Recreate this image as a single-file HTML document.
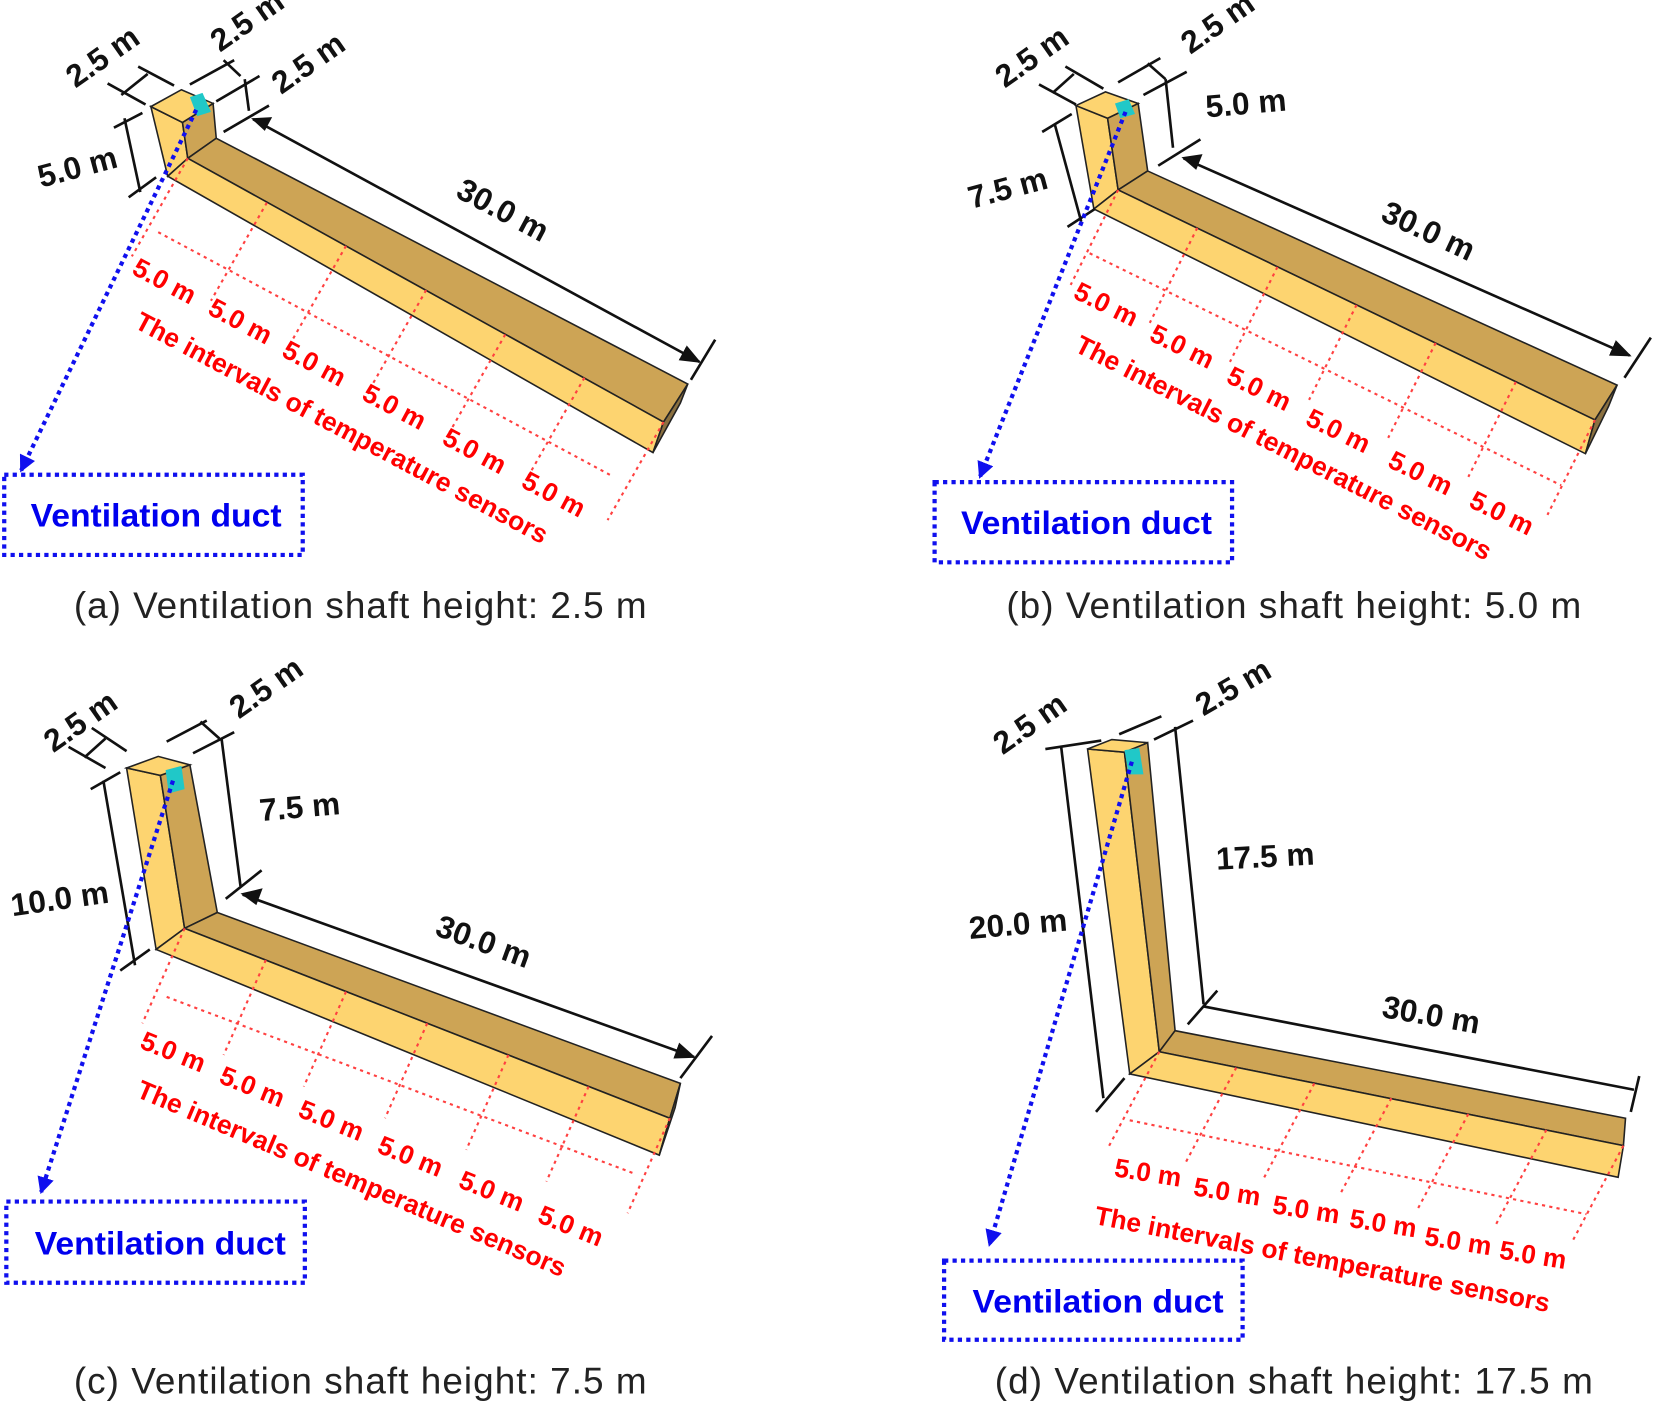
<!DOCTYPE html>
<html><head><meta charset="utf-8"><style>
html,body{margin:0;padding:0;background:#fff;}
svg{display:block;}
.dim{font-family:"Liberation Sans",sans-serif;font-weight:bold;font-size:30px;fill:#111;}
.red{font-family:"Liberation Sans",sans-serif;font-weight:bold;font-size:25px;fill:#f00;}
.blue{font-family:"Liberation Sans",sans-serif;font-weight:bold;font-size:31px;fill:#0000ee;}
.cap{font-family:"Liberation Sans",sans-serif;font-size:35px;fill:#222;}
.k{stroke:#111;stroke-width:2.5;fill:none;}
.rd{stroke:#ff4040;stroke-width:2;stroke-dasharray:3 4;fill:none;}
.bd{stroke:#1010ee;stroke-width:4;stroke-dasharray:4 4;fill:none;}
.lt{fill:#fdd470;stroke:#222;stroke-width:1.5;}
.dk{fill:#cda455;stroke:#222;stroke-width:1.5;}
.cy{fill:#20c8c8;}
</style></head><body>
<svg width="1654" height="1401" viewBox="0 0 1568 1328" xmlns="http://www.w3.org/2000/svg">
<defs>
<marker id="abl" markerWidth="16" markerHeight="16" refX="14" refY="8" orient="auto" markerUnits="userSpaceOnUse" viewBox="0 0 16 16"><path d="M0,0 L16,8 L0,16 z" fill="#1010ee"/></marker>
<marker id="ak" markerWidth="20" markerHeight="16" refX="18" refY="8" orient="auto" markerUnits="userSpaceOnUse" viewBox="0 0 20 16"><path d="M0,0 L20,8 L0,16 z" fill="#111"/></marker>
</defs>

<!-- ===== Panel A ===== -->
<polygon class="lt" points="143,101 173,116 178,150 159,167"/>
<polygon class="dk" points="173,116 202,98 205,131 178,150"/>
<polygon class="lt" points="143,101 172,85 202,98 173,116"/>
<polygon class="cy" points="180,92 192,88 200,106 187,110"/>
<polygon class="dk" points="178,150 205,131 652,364 629,400"/>
<polygon class="lt" points="159,167 178,150 629,400 619,429"/>
<polygon fill="#8a7040" stroke="#222" stroke-width="1.5" points="629,400 652,364 645,382 619,429"/>
<g class="rd">
<line x1="178" y1="150" x2="125" y2="243"/><line x1="253" y1="192" x2="200" y2="285"/>
<line x1="328" y1="233" x2="275" y2="326"/><line x1="404" y1="275" x2="351" y2="368"/>
<line x1="479" y1="317" x2="426" y2="410"/><line x1="554" y1="358" x2="501" y2="451"/>
<line x1="629" y1="400" x2="576" y2="493"/><line x1="150" y1="220" x2="580" y2="451"/>
</g>
<g class="k">
<line x1="131" y1="63" x2="165" y2="81"/><line x1="102" y1="79" x2="138" y2="99"/><line x1="115" y1="90" x2="140" y2="70"/>
<line x1="180" y1="80" x2="222" y2="57"/><line x1="205" y1="96" x2="246" y2="72"/><line x1="232" y1="75" x2="236" y2="105"/>
<line x1="212" y1="57" x2="228" y2="72"/>
<line x1="118" y1="112" x2="133" y2="182"/><line x1="108" y1="121" x2="135" y2="107"/><line x1="122" y1="187" x2="148" y2="168"/>
<line x1="212" y1="125" x2="255" y2="100"/><line x1="655" y1="360" x2="678" y2="322"/>
<line x1="240" y1="113" x2="663" y2="343" marker-end="url(#ak)"/>
</g>
<polygon points="238,112 258,111 251,124" fill="#111"/>
<text class="dim" transform="translate(103,62) rotate(-35)" text-anchor="middle">2.5 m</text>
<text class="dim" transform="translate(240,28) rotate(-35)" text-anchor="middle">2.5 m</text>
<text class="dim" transform="translate(298,68) rotate(-35)" text-anchor="middle">2.5 m</text>
<text class="dim" transform="translate(76,168) rotate(-15)" text-anchor="middle">5.0 m</text>
<text class="dim" transform="translate(472,208) rotate(28)" text-anchor="middle">30.0 m</text>
<g class="red">
<text transform="translate(152,274) rotate(28)" text-anchor="middle">5.0 m</text>
<text transform="translate(224,312) rotate(28)" text-anchor="middle">5.0 m</text>
<text transform="translate(294,352) rotate(28)" text-anchor="middle">5.0 m</text>
<text transform="translate(370,393) rotate(28)" text-anchor="middle">5.0 m</text>
<text transform="translate(446,435) rotate(28)" text-anchor="middle">5.0 m</text>
<text transform="translate(521,476) rotate(28)" text-anchor="middle">5.0 m</text>
<text transform="translate(320,413) rotate(28)" text-anchor="middle">The intervals of temperature sensors</text>
</g>
<line class="bd" x1="186" y1="104" x2="20" y2="446" marker-end="url(#abl)"/>
<rect class="bd" x="4" y="450" width="283" height="76"/>
<text class="blue" x="29" y="499" textLength="238" lengthAdjust="spacingAndGlyphs">Ventilation duct</text>
<text class="cap" x="70" y="586" textLength="543" lengthAdjust="spacing">(a) Ventilation shaft height: 2.5 m</text>

<!-- ===== Panel B ===== -->
<polygon class="lt" points="1020,100 1050,112 1060,180 1037,198"/>
<polygon class="dk" points="1050,112 1079,98 1088,162 1060,180"/>
<polygon class="lt" points="1020,100 1048,87 1079,98 1050,112"/>
<polygon class="cy" points="1057,98 1070,94 1076,108 1062,112"/>
<polygon class="dk" points="1060,180 1088,162 1533,365 1512,398"/>
<polygon class="lt" points="1037,198 1060,180 1512,398 1503,430"/>
<polygon fill="#8a7040" stroke="#222" stroke-width="1.5" points="1512,398 1533,365 1525,385 1503,430"/>
<g class="rd">
<line x1="1060" y1="180" x2="1015" y2="270"/><line x1="1135" y1="216" x2="1090" y2="306"/>
<line x1="1211" y1="253" x2="1166" y2="343"/><line x1="1286" y1="289" x2="1241" y2="379"/>
<line x1="1361" y1="325" x2="1316" y2="415"/><line x1="1437" y1="362" x2="1392" y2="452"/>
<line x1="1512" y1="398" x2="1467" y2="488"/><line x1="1033" y1="240" x2="1480" y2="460"/>
</g>
<g class="k">
<line x1="1010" y1="63" x2="1046" y2="84"/><line x1="985" y1="80" x2="1020" y2="99"/><line x1="998" y1="88" x2="1018" y2="70"/>
<line x1="1060" y1="78" x2="1100" y2="55"/><line x1="1084" y1="90" x2="1125" y2="68"/><line x1="1088" y1="60" x2="1105" y2="75"/>
<line x1="1105" y1="75" x2="1112" y2="140"/><line x1="1098" y1="157" x2="1138" y2="132"/>
<line x1="1000" y1="118" x2="1025" y2="210"/><line x1="988" y1="125" x2="1016" y2="108"/><line x1="1012" y1="215" x2="1038" y2="198"/>
<line x1="1540" y1="358" x2="1565" y2="320"/>
<line x1="1122" y1="150" x2="1545" y2="337" marker-end="url(#ak)"/>
</g>
<polygon points="1120,149 1140,146 1134,161" fill="#111"/>
<text class="dim" transform="translate(984,62) rotate(-35)" text-anchor="middle">2.5 m</text>
<text class="dim" transform="translate(1160,30) rotate(-35)" text-anchor="middle">2.5 m</text>
<text class="dim" transform="translate(1182,108) rotate(-5)" text-anchor="middle">5.0 m</text>
<text class="dim" transform="translate(958,188) rotate(-15)" text-anchor="middle">7.5 m</text>
<text class="dim" transform="translate(1350,228) rotate(25)" text-anchor="middle">30.0 m</text>
<g class="red">
<text transform="translate(1045,296) rotate(26)" text-anchor="middle">5.0 m</text>
<text transform="translate(1117,336) rotate(26)" text-anchor="middle">5.0 m</text>
<text transform="translate(1190,376) rotate(26)" text-anchor="middle">5.0 m</text>
<text transform="translate(1265,416) rotate(26)" text-anchor="middle">5.0 m</text>
<text transform="translate(1343,456) rotate(26)" text-anchor="middle">5.0 m</text>
<text transform="translate(1420,494) rotate(26)" text-anchor="middle">5.0 m</text>
<text transform="translate(1213,432) rotate(27)" text-anchor="middle">The intervals of temperature sensors</text>
</g>
<line class="bd" x1="1067" y1="106" x2="929" y2="452" marker-end="url(#abl)"/>
<rect class="bd" x="886" y="457" width="282" height="76"/>
<text class="blue" x="911" y="506" textLength="238" lengthAdjust="spacingAndGlyphs">Ventilation duct</text>
<text class="cap" x="954" y="586" textLength="545" lengthAdjust="spacing">(b) Ventilation shaft height: 5.0 m</text>

<!-- ===== Panel C ===== -->
<polygon class="lt" points="120,728 152,735 175,880 148,900"/>
<polygon class="dk" points="152,735 180,725 206,865 175,880"/>
<polygon class="lt" points="120,728 150,717 180,725 152,735"/>
<polygon class="cy" points="157,730 172,726 175,748 160,752"/>
<polygon class="dk" points="175,880 206,865 645,1027 635,1060"/>
<polygon class="lt" points="148,900 175,880 635,1060 625,1095"/>
<polygon fill="#8a7040" stroke="#222" stroke-width="1.5" points="635,1060 645,1027 640,1050 625,1095"/>
<g class="rd">
<line x1="175" y1="880" x2="135" y2="970"/><line x1="252" y1="910" x2="212" y2="1000"/>
<line x1="328" y1="940" x2="288" y2="1030"/><line x1="405" y1="970" x2="365" y2="1060"/>
<line x1="482" y1="1000" x2="442" y2="1090"/><line x1="558" y1="1030" x2="518" y2="1120"/>
<line x1="635" y1="1060" x2="595" y2="1150"/><line x1="158" y1="945" x2="600" y2="1112"/>
</g>
<g class="k">
<line x1="87" y1="690" x2="120" y2="712"/><line x1="65" y1="708" x2="100" y2="728"/><line x1="80" y1="718" x2="100" y2="700"/>
<line x1="158" y1="703" x2="196" y2="683"/><line x1="183" y1="714" x2="222" y2="694"/><line x1="190" y1="684" x2="208" y2="700"/>
<line x1="210" y1="700" x2="228" y2="840"/><line x1="214" y1="852" x2="248" y2="825"/>
<line x1="98" y1="740" x2="128" y2="915"/><line x1="86" y1="748" x2="114" y2="732"/><line x1="114" y1="920" x2="142" y2="900"/>
<line x1="645" y1="1022" x2="675" y2="982"/>
<line x1="230" y1="848" x2="658" y2="1002" marker-end="url(#ak)"/>
</g>
<polygon points="228,847 249,842 243,858" fill="#111"/>
<text class="dim" transform="translate(82,692) rotate(-35)" text-anchor="middle">2.5 m</text>
<text class="dim" transform="translate(258,660) rotate(-35)" text-anchor="middle">2.5 m</text>
<text class="dim" transform="translate(285,775) rotate(-5)" text-anchor="middle">7.5 m</text>
<text class="dim" transform="translate(58,862) rotate(-8)" text-anchor="middle">10.0 m</text>
<text class="dim" transform="translate(455,902) rotate(20)" text-anchor="middle">30.0 m</text>
<g class="red">
<text transform="translate(161,1005) rotate(22)" text-anchor="middle">5.0 m</text>
<text transform="translate(236,1038) rotate(22)" text-anchor="middle">5.0 m</text>
<text transform="translate(311,1070) rotate(22)" text-anchor="middle">5.0 m</text>
<text transform="translate(386,1104) rotate(22)" text-anchor="middle">5.0 m</text>
<text transform="translate(463,1137) rotate(22)" text-anchor="middle">5.0 m</text>
<text transform="translate(538,1170) rotate(22)" text-anchor="middle">5.0 m</text>
<text transform="translate(330,1125) rotate(23)" text-anchor="middle">The intervals of temperature sensors</text>
</g>
<line class="bd" x1="164" y1="740" x2="39" y2="1130" marker-end="url(#abl)"/>
<rect class="bd" x="6" y="1139" width="283" height="77"/>
<text class="blue" x="33" y="1189" textLength="238" lengthAdjust="spacingAndGlyphs">Ventilation duct</text>
<text class="cap" x="70" y="1321" textLength="543" lengthAdjust="spacing">(c) Ventilation shaft height: 7.5 m</text>

<!-- ===== Panel D ===== -->
<polygon class="lt" points="1031,710 1066,713 1099,997 1071,1018"/>
<polygon class="dk" points="1066,713 1088,704 1114,977 1099,997"/>
<polygon class="lt" points="1031,710 1054,701 1088,704 1066,713"/>
<polygon class="cy" points="1066,711 1080,709 1084,734 1070,734"/>
<polygon class="dk" points="1099,997 1114,977 1541,1060 1539,1086"/>
<polygon class="lt" points="1071,1018 1099,997 1539,1086 1534,1116"/>
<g class="rd">
<line x1="1099" y1="997" x2="1051" y2="1087"/><line x1="1172" y1="1012" x2="1124" y2="1102"/>
<line x1="1246" y1="1027" x2="1198" y2="1117"/><line x1="1319" y1="1041" x2="1271" y2="1131"/>
<line x1="1392" y1="1056" x2="1344" y2="1146"/><line x1="1466" y1="1071" x2="1418" y2="1161"/>
<line x1="1539" y1="1086" x2="1491" y2="1176"/><line x1="1071" y1="1062" x2="1504" y2="1151"/>
</g>
<g class="k">
<line x1="991" y1="710" x2="1044" y2="702"/><line x1="1006" y1="708" x2="1046" y2="1041"/><line x1="1039" y1="1054" x2="1066" y2="1022"/>
<line x1="1061" y1="696" x2="1101" y2="679"/><line x1="1094" y1="701" x2="1131" y2="683"/>
<line x1="1114" y1="689" x2="1141" y2="952"/><line x1="1126" y1="971" x2="1154" y2="939"/>
<line x1="1141" y1="954" x2="1549" y2="1033"/><line x1="1546" y1="1054" x2="1554" y2="1020"/>
</g>
<text class="dim" transform="translate(982,694) rotate(-35)" text-anchor="middle">2.5 m</text>
<text class="dim" transform="translate(1174,660) rotate(-30)" text-anchor="middle">2.5 m</text>
<text class="dim" transform="translate(1200,822) rotate(-3)" text-anchor="middle">17.5 m</text>
<text class="dim" transform="translate(966,886) rotate(-5)" text-anchor="middle">20.0 m</text>
<text class="dim" transform="translate(1355,972) rotate(10)" text-anchor="middle">30.0 m</text>
<g class="red">
<text transform="translate(1087,1120) rotate(9)" text-anchor="middle">5.0 m</text>
<text transform="translate(1162,1138) rotate(9)" text-anchor="middle">5.0 m</text>
<text transform="translate(1237,1155) rotate(9)" text-anchor="middle">5.0 m</text>
<text transform="translate(1310,1168) rotate(9)" text-anchor="middle">5.0 m</text>
<text transform="translate(1381,1185) rotate(9)" text-anchor="middle">5.0 m</text>
<text transform="translate(1452,1198) rotate(9)" text-anchor="middle">5.0 m</text>
<text transform="translate(1252,1202) rotate(11)" text-anchor="middle">The intervals of temperature sensors</text>
</g>
<line class="bd" x1="1073" y1="722" x2="938" y2="1180" marker-end="url(#abl)"/>
<rect class="bd" x="895" y="1195" width="283" height="75"/>
<text class="blue" x="922" y="1244" textLength="238" lengthAdjust="spacingAndGlyphs">Ventilation duct</text>
<text class="cap" x="943" y="1321" textLength="567" lengthAdjust="spacing">(d) Ventilation shaft height: 17.5 m</text>
</svg>
</body></html>
